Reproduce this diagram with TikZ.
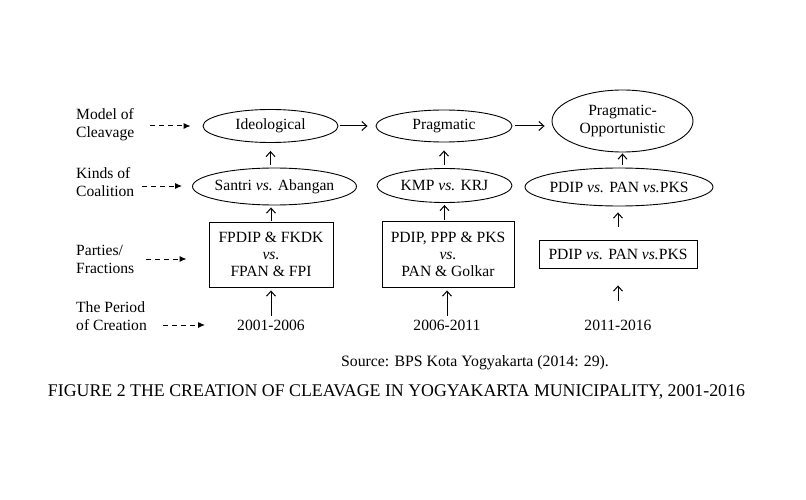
\documentclass[tikz,border=0pt]{standalone}
\usepackage{fontspec}
\setmainfont{Liberation Serif}
\usetikzlibrary{arrows.meta,shapes.geometric}
\begin{document}
\begin{tikzpicture}[x=1pt,y=-1pt,
  every node/.style={font=\fontsize{15.6}{18}\selectfont, inner sep=0pt},
  lbl/.style={align=left, anchor=west},
  ell/.style={draw, ellipse, line width=0.9pt, inner xsep=-40pt, inner ysep=-8pt},
  boxn/.style={draw, rectangle, line width=0.9pt, align=center},
  up/.style={-{Straight Barb[length=5pt,width=9pt,line width=1pt]}, line width=1pt},
  dsh/.style={-{Latex[length=7pt,width=6pt]}, dash pattern=on 5pt off 4pt, line width=1pt}]
\useasboundingbox (0,0) rectangle (806,500);
% left labels
\node[lbl] (l1) at (76,125) {Model of\\Cleavage};
\node[lbl] (l2) at (76,182) {Kinds of\\Coalition};
\node[lbl] (l3) at (76,259) {Parties/\\Fractions};
\node[lbl] (l4) at (76,316) {The Period\\of Creation};
% row 1
\node[ell, minimum width=135pt, minimum height=33pt] (m1) at (270.5,126) {Ideological};
\node[ell, minimum width=136pt, minimum height=32pt] (m2) at (444,126) {Pragmatic};
\node[ell, minimum width=141pt, minimum height=62pt, align=center] (m3) at (622.5,121) {Pragmatic-\\Opportunistic};
% row 2
\node[ell, minimum width=164pt, minimum height=37pt] (k1) at (274.5,186.5) {Santri \textit{vs.} Abangan};
\node[ell, minimum width=135pt, minimum height=34pt] (k2) at (444.5,185.5) {KMP \textit{vs.} KRJ};
\node[ell, minimum width=188pt, minimum height=38pt] (k3) at (619,187) {PDIP \textit{vs.} PAN \textit{vs.}PKS};
% row 3
\node[boxn, minimum width=124pt, minimum height=65pt] (p1) at (271,254.5) {FPDIP \& FKDK\\[-1pt]\textit{vs.}\\[-1pt]FPAN \& FPI};
\node[boxn, minimum width=132pt, minimum height=66pt] (p2) at (448,254) {PDIP, PPP \& PKS\\[-1pt]\textit{vs.}\\[-1pt]PAN \& Golkar};
\node[boxn, minimum width=158pt, minimum height=28pt] (p3) at (618,254) {PDIP \textit{vs.} PAN \textit{vs.}PKS};
% row 4
\node (y1) at (271,325) {2001-2006};
\node (y2) at (447,325) {2006-2011};
\node (y3) at (618,325) {2011-2016};
% captions
\node (src) at (475,363) {\fontsize{15.8}{18}\selectfont Source: BPS Kota Yogyakarta (2014: 29).};
\node (cap) at (396.5,392) {\resizebox{697pt}{!}{\fontsize{17.5}{20}\selectfont FIGURE 2 THE CREATION OF CLEAVAGE IN YOGYAKARTA MUNICIPALITY, 2001-2016}};
% dashed arrows
\coordinate (d1) at (150,126);
\coordinate (d2) at (142,186);
\coordinate (d3) at (146,259);
\coordinate (d4) at (163,325);
\draw[dsh, shorten >=12pt] (d1) -- (d1 -| m1.west);
\draw[dsh, shorten >=10pt] (d2) -- (d2 -| k1.west);
\draw[dsh, shorten >=22pt] (d3) -- (d3 -| p1.west);
\draw[dsh, shorten >=32pt] (d4) -- (y1.west);
% horizontal flow
\draw[up, shorten <=2pt, shorten >=8pt] (m1.east) -- (m2.west);
\draw[up, shorten <=3pt, shorten >=7pt] (m2.east) -- (m3.west |- m2.west);
% column 1
\draw[up, shorten <=3pt, shorten >=8pt] (k1.north -| m1.south) -- (m1.south);
\draw[up, shorten <=1pt, shorten >=2pt] (p1.north) -- (p1.north |- k1.south);
\draw[up, shorten <=4pt, shorten >=3pt] (y1.north) -- (p1.south);
% column 2
\draw[up, shorten <=3pt, shorten >=8pt] (k2.north -| m2.south) -- (m2.south);
\draw[up, shorten <=1pt, shorten >=2pt] (p2.north -| k2.south) -- (k2.south);
\draw[up, shorten <=4pt, shorten >=3pt] (y2.north) -- (y2.north |- p2.south);
% column 3
\draw[up, shorten <=3pt, shorten >=1pt] (k3.north -| m3.south) -- (m3.south);
\draw[up, shorten <=13pt, shorten >=6pt] (p3.north) -- (p3.north |- k3.south);
\draw[up, shorten <=19pt, shorten >=17pt] (y3.north) -- (p3.south);
\end{tikzpicture}
\end{document}
